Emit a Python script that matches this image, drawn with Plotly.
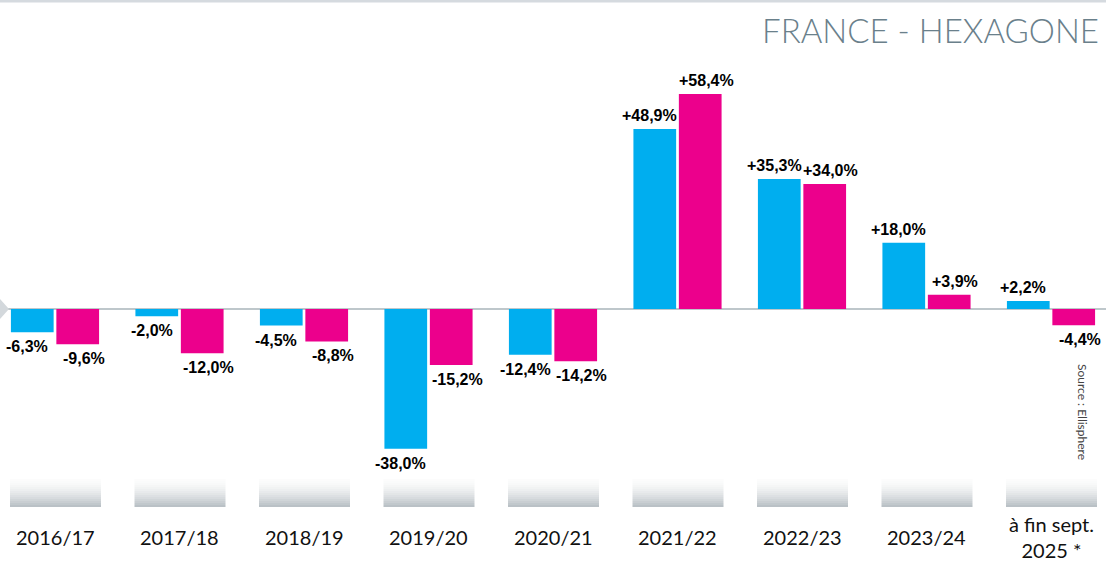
import plotly.graph_objects as go

categories = ["2016/17", "2017/18", "2018/19", "2019/20", "2020/21",
              "2021/22", "2022/23", "2023/24", "à fin sept.<br>2025 *"]
series_a = [-6.3, -2.0, -4.5, -38.0, -12.4, 48.9, 35.3, 18.0, 2.2]
series_b = [-9.6, -12.0, -8.8, -15.2, -14.2, 58.4, 34.0, 3.9, -4.4]
title_text = "FRANCE - HEXAGONE"
source_text = "Source : Ellisphere"

W, H = 1106, 561
ZERO_PX = 309
SCALE = 3.68  # px per percentage point
BARGAP = 0.27
BARGROUPGAP = 0.06


def fmt(v):
    return f"{v:+.1f}%".replace(".", ",")


def py(px):
    return 1 - px / H


fig = go.Figure()
xs = list(range(len(categories)))
for vals, col in [(series_a, "#00AEEF"), (series_b, "#EC008C")]:
    fig.add_trace(go.Bar(
        x=xs, y=vals,
        marker=dict(color=col, line=dict(width=0)),
        hoverinfo="skip",
    ))

annotations = []
label_font = dict(family="Liberation Sans", size=16, color="#000000", weight="bold")
slot = (1 - BARGAP) / 2
for k, (vals, xshift) in enumerate([(series_a, -5), (series_b, 6)]):
    off = -slot / 2 if k == 0 else slot / 2
    for i, v in enumerate(vals):
        annotations.append(dict(
            x=i + off, y=v, xref="x", yref="y", text=fmt(v), showarrow=False,
            xanchor="center", yanchor="bottom" if v >= 0 else "top",
            xshift=xshift, yshift=3 if v >= 0 else -4, font=label_font,
        ))

shapes = []
# top grey line
shapes.append(dict(type="rect", xref="paper", yref="paper", x0=0, x1=1,
                   y0=py(2.5), y1=1, fillcolor="#d5dadf", line=dict(width=0), layer="below"))
# zero line
shapes.append(dict(type="line", xref="paper", yref="y", x0=8 / W, x1=1, y0=0, y1=0,
                   line=dict(color="#a9b4ba", width=1.5), layer="below"))
# left arrow marker
shapes.append(dict(type="path", xref="paper", yref="paper",
                   path=f"M 0 {py(299)} L {9 / W} {py(309)} L 0 {py(319)} Z",
                   fillcolor="#d3d8dc", line=dict(width=0), layer="below"))

# gradient grey boxes under each category
n_steps = 14
top_px, bot_px = 479, 507
c_top = (252, 252, 252)
c_bot = (186, 193, 198)
for i in range(len(categories)):
    for s in range(n_steps):
        t = s / (n_steps - 1)
        t2 = t ** 1.6
        c = tuple(int(c_top[k] + (c_bot[k] - c_top[k]) * t2) for k in range(3))
        y0p = top_px + (bot_px - top_px) * s / n_steps
        y1p = top_px + (bot_px - top_px) * (s + 1) / n_steps
        shapes.append(dict(type="rect", xref="x", yref="paper",
                           x0=i - 45 / 124.5, x1=i + 46 / 124.5,
                           y0=py(y1p), y1=py(y0p),
                           fillcolor="rgb(%d,%d,%d)" % c, line=dict(width=0), layer="below"))

for i, cat in enumerate(categories):
    annotations.append(dict(x=i, y=py(537 if "<br>" not in cat else 537), xref="x", yref="paper",
                            text=cat, showarrow=False, xanchor="center", yanchor="middle",
                            font=dict(family="Lato", size=20, color="#111111")))
annotations.append(dict(x=1101 / W, y=py(30), xref="paper", yref="paper", text=title_text,
                        showarrow=False, xanchor="right", yanchor="middle",
                        font=dict(family="Lato", size=33, color="#6a808b", weight=300)))
annotations.append(dict(x=1083 / W, y=py(412), xref="paper", yref="paper", text=source_text,
                        showarrow=False, textangle=90, xanchor="center", yanchor="middle",
                        font=dict(family="Lato", size=12, color="#444444")))

r0 = -55 / 124.5
fig.update_layout(
    width=W, height=H,
    margin=dict(l=0, r=0, t=0, b=0),
    paper_bgcolor="white", plot_bgcolor="white",
    barmode="group", bargap=BARGAP, bargroupgap=BARGROUPGAP,
    showlegend=False,
    xaxis=dict(visible=False, range=[r0, r0 + W / 124.5]),
    yaxis=dict(visible=False, range=[-(H - ZERO_PX) / SCALE, ZERO_PX / SCALE]),
    shapes=shapes, annotations=annotations,
)

fig.write_html("out.html", config={"displayModeBar": False},
               post_script="document.body.style.margin='0';document.body.style.overflow='hidden';")
